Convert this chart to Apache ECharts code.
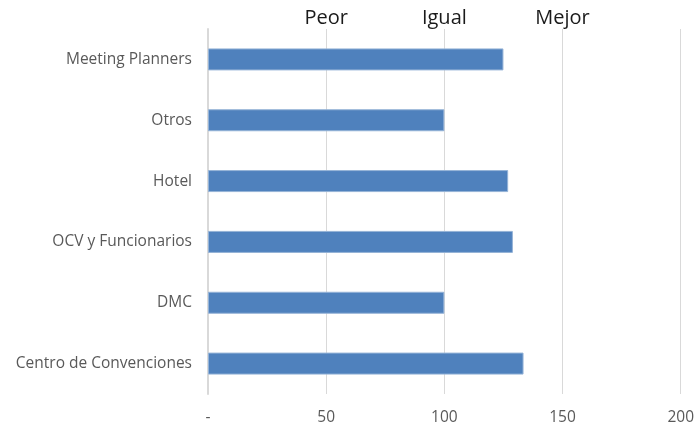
<!DOCTYPE html>
<html>
<head>
<meta charset="utf-8">
<script src="https://cdn.jsdelivr.net/npm/echarts@6/dist/echarts.min.js"></script>
<style>
  html, body { margin: 0; padding: 0; background: #ffffff; }
  #chart { width: 697px; height: 427px; }
</style>
</head>
<body>
<div id="chart"></div>
<script>
// Categories listed bottom-to-top (category axis on y starts at the bottom)
const categories = [
  'Centro de Convenciones',
  'DMC',
  'OCV y Funcionarios',
  'Hotel',
  'Otros',
  'Meeting Planners'
];
const values = [133.5, 100, 129, 127, 100, 125];

// Bottom tick labels and top scale words
const tickLabels = { 0: '-', 50: '50', 100: '100', 150: '150', 200: '200' };
const scaleWords = { 50: 'Peor', 100: 'Igual', 150: 'Mejor' };

const font = '"Open Sans", "Noto Sans", sans-serif';

const chart = echarts.init(document.getElementById('chart'), null, { renderer: 'canvas' });
chart.setOption({
  animation: false,
  grid: { left: 208, right: 14, top: 29, bottom: 33, containLabel: false },
  xAxis: [
    {
      type: 'value',
      position: 'bottom',
      min: 0, max: 200, interval: 50,
      axisLine: { show: false },
      axisTick: { show: false },
      splitLine: { show: true, lineStyle: { color: '#d9d9d9', width: 1 } },
      axisLabel: {
        color: '#595959', fontSize: 15.5, fontFamily: font, margin: 16,
        formatter: v => tickLabels[v] ?? ''
      }
    },
    {
      type: 'value',
      position: 'top',
      min: 0, max: 200, interval: 50,
      axisLine: { show: false },
      axisTick: { show: false },
      splitLine: { show: false },
      axisLabel: {
        color: '#1a1a1a', fontSize: 20, fontFamily: font, margin: 1,
        formatter: v => scaleWords[v] ?? ''
      }
    }
  ],
  yAxis: {
    type: 'category',
    data: categories,
    axisLine: { show: true, lineStyle: { color: '#d9d9d9', width: 2 } },
    axisTick: { show: false },
    axisLabel: { color: '#595959', fontSize: 15.5, fontFamily: font, margin: 16 }
  },
  series: [{
    type: 'bar',
    xAxisIndex: 0,
    data: values,
    barWidth: 22,
    itemStyle: { color: '#4f81bd', borderColor: '#95b3d7', borderWidth: 1 }
  }]
});
</script>
</body>
</html>
